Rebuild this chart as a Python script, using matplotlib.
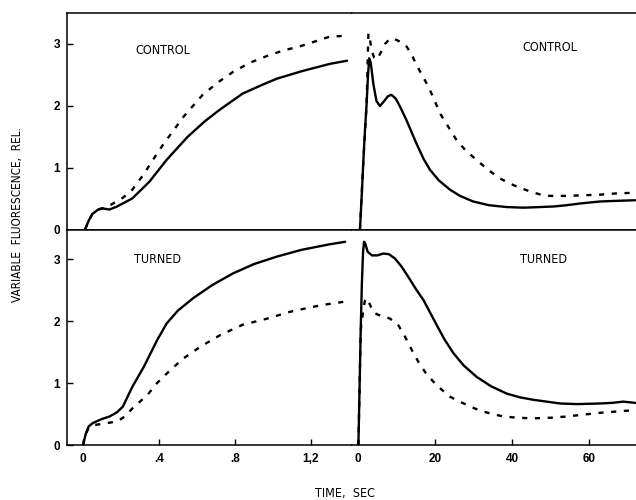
import matplotlib
matplotlib.use("Agg")
import matplotlib.pyplot as plt
from matplotlib import font_manager

# --- data (time in sec, fluorescence rel.) ---
# CONTROL, fast rise (0 - 1.4 s)
ctl_rise_t_solid = [0.01, 0.03, 0.05, 0.08, 0.10, 0.14, 0.18, 0.26, 0.35, 0.44, 0.55,
                    0.64, 0.72, 0.84, 0.95, 1.02, 1.15, 1.30, 1.39]
ctl_rise_y_solid = [0.0, 0.15, 0.26, 0.33, 0.35, 0.33, 0.38, 0.51, 0.78, 1.13, 1.50,
                    1.75, 1.94, 2.20, 2.35, 2.44, 2.56, 2.68, 2.73]
ctl_rise_t_dash = [0.01, 0.03, 0.05, 0.08, 0.12, 0.16, 0.21, 0.26, 0.32, 0.37, 0.42,
                   0.53, 0.63, 0.71, 0.79, 0.88, 0.98, 1.06, 1.14, 1.22, 1.30, 1.37]
ctl_rise_y_dash = [0.0, 0.15, 0.26, 0.33, 0.36, 0.43, 0.52, 0.65, 0.90, 1.14, 1.37,
                   1.83, 2.18, 2.38, 2.55, 2.70, 2.82, 2.90, 2.96, 3.04, 3.12, 3.13]

# CONTROL, slow transient (0 - 72 s)
ctl_slow_t_solid = [0.5, 1.0, 1.4, 1.8, 2.25, 2.6, 2.9, 3.3, 4.0, 4.8, 5.7, 6.8, 7.8,
                    8.7, 9.8, 11.0, 12.6, 15.0, 17.0, 18.7, 21.0, 23.9, 26.5, 29.9,
                    34.0, 38.6, 43.0, 47.3, 51.0, 54.2, 58.0, 62.9, 67.0, 72.0]
ctl_slow_y_solid = [0.0, 0.6, 1.13, 1.6, 2.05, 2.5, 2.77, 2.7, 2.35, 2.08, 2.0, 2.08,
                    2.16, 2.18, 2.12, 1.98, 1.77, 1.42, 1.15, 0.97, 0.80, 0.65, 0.55,
                    0.46, 0.40, 0.37, 0.36, 0.37, 0.38, 0.40, 0.43, 0.46, 0.47, 0.48]
ctl_slow_t_dash = [0.5, 1.4, 2.25, 2.5, 2.7, 3.0, 3.5, 4.2, 4.9, 5.8, 7.0, 8.2, 9.2,
                   10.5, 11.5, 12.6, 14.0, 15.2, 16.8, 18.3, 19.8, 21.3, 23.5, 25.6,
                   28.0, 30.8, 33.8, 36.9, 40.5, 44.7, 47.5, 49.9, 54.0, 58.5, 63.0,
                   67.0, 71.5]
ctl_slow_y_dash = [0.0, 1.13, 2.05, 2.7, 3.17, 3.12, 2.9, 2.78, 2.75, 2.85, 3.0, 3.08,
                   3.09, 3.05, 3.02, 2.96, 2.82, 2.66, 2.48, 2.31, 2.10, 1.88, 1.66,
                   1.45, 1.28, 1.13, 0.97, 0.83, 0.72, 0.62, 0.57, 0.55, 0.55, 0.56,
                   0.57, 0.59, 0.60]

# TURNED, fast rise (0 - 1.4 s)
trn_rise_t_solid = [0.0, 0.015, 0.03, 0.05, 0.07, 0.10, 0.14, 0.18, 0.21, 0.26, 0.32,
                    0.39, 0.44, 0.50, 0.58, 0.68, 0.79, 0.90, 1.02, 1.15, 1.30, 1.38]
trn_rise_y_solid = [0.0, 0.18, 0.30, 0.35, 0.38, 0.42, 0.46, 0.53, 0.62, 0.94, 1.26,
                    1.69, 1.96, 2.17, 2.37, 2.58, 2.77, 2.92, 3.04, 3.15, 3.24, 3.28]
trn_rise_t_dash = [0.0, 0.015, 0.03, 0.054, 0.10, 0.14, 0.18, 0.22, 0.26, 0.30, 0.34,
                   0.39, 0.46, 0.53, 0.62, 0.72, 0.84, 0.97, 1.09, 1.18, 1.26, 1.37]
trn_rise_y_dash = [0.0, 0.18, 0.28, 0.32, 0.34, 0.36, 0.38, 0.46, 0.59, 0.70, 0.81,
                   1.0, 1.21, 1.40, 1.59, 1.77, 1.94, 2.04, 2.15, 2.21, 2.26, 2.31]

# TURNED, slow transient (0 - 72 s)
trn_slow_t_solid = [0.1, 0.4, 0.7, 1.0, 1.3, 1.56, 1.9, 2.5, 3.6, 5.0, 6.6, 8.0, 9.6,
                    11.3, 13.1, 15.0, 17.0, 18.7, 20.4, 22.5, 24.8, 27.5, 30.8, 34.5,
                    38.6, 42.0, 45.5, 49.0, 52.5, 57.0, 62.8, 66.0, 68.9, 72.0]
trn_slow_y_solid = [0.0, 0.9, 1.85, 2.6, 3.1, 3.28, 3.25, 3.12, 3.06, 3.06, 3.09, 3.08,
                    3.01, 2.88, 2.71, 2.52, 2.34, 2.14, 1.94, 1.70, 1.48, 1.28, 1.10,
                    0.95, 0.83, 0.77, 0.73, 0.70, 0.67, 0.66, 0.67, 0.68, 0.70, 0.68]
trn_slow_t_dash = [0.1, 0.4, 0.7, 1.0, 1.4, 1.8, 2.25, 3.0, 4.0, 5.3, 6.2, 8.3, 10.5,
                   12.2, 14.0, 15.7, 17.5, 19.6, 21.8, 23.9, 26.0, 28.2, 30.3, 32.5,
                   35.0, 37.7, 41.5, 45.5, 50.0, 54.2, 58.5, 62.9, 67.0, 71.5]
trn_slow_y_dash = [0.0, 0.9, 1.85, 2.0, 2.2, 2.33, 2.37, 2.28, 2.14, 2.10, 2.08, 2.04,
                   1.93, 1.75, 1.53, 1.34, 1.17, 1.02, 0.89, 0.78, 0.71, 0.65, 0.59,
                   0.54, 0.50, 0.46, 0.44, 0.43, 0.44, 0.46, 0.49, 0.52, 0.54, 0.56]

y_ticks = [0, 1, 2, 3]
rise_ticks = [0, 0.4, 0.8, 1.2]
rise_labels = ["0", ".4", ".8", "1,2"]
slow_ticks = [0, 20, 40, 60]
slow_labels = ["0", "20", "40", "60"]

# narrow lettering font if one is installed
names = {f.name for f in font_manager.fontManager.ttflist}
if "Liberation Sans Narrow" in names:
    label_font, label_size = "Liberation Sans Narrow", 11
else:
    label_font, label_size = "DejaVu Sans", 9

W, H = 636, 500
fig = plt.figure(figsize=(W / 100, H / 100), dpi=100)


def make_axes(x0, x1, y_top, y_bot):
    return fig.add_axes([x0 / W, 1 - y_bot / H, (x1 - x0) / W, (y_bot - y_top) / H])


ax_cr = make_axes(67, 352, 13, 230)
ax_cs = make_axes(352, 636, 13, 230)
ax_tr = make_axes(67, 352, 230, 445)
ax_ts = make_axes(352, 636, 230, 445)

solid = dict(color="black", lw=1.7, solid_capstyle="round")
dash = dict(color="black", lw=1.7, linestyle=(0, (2.2, 3.2)))

ax_cr.plot(ctl_rise_t_solid, ctl_rise_y_solid, **solid)
ax_cr.plot(ctl_rise_t_dash, ctl_rise_y_dash, **dash)
ax_cs.plot(ctl_slow_t_solid, ctl_slow_y_solid, **solid)
ax_cs.plot(ctl_slow_t_dash, ctl_slow_y_dash, **dash)
ax_tr.plot(trn_rise_t_solid, trn_rise_y_solid, **solid)
ax_tr.plot(trn_rise_t_dash, trn_rise_y_dash, **dash)
ax_ts.plot(trn_slow_t_solid, trn_slow_y_solid, **solid)
ax_ts.plot(trn_slow_t_dash, trn_slow_y_dash, **dash)

tick_font = dict(family="Liberation Sans", size=8.5, weight="bold")

for ax, top in [(ax_cr, True), (ax_cs, True), (ax_tr, False), (ax_ts, False)]:
    slow = ax in (ax_cs, ax_ts)
    ax.set_xlim((-1.56, 72.2) if slow else (-0.084, 1.416))
    ax.set_ylim(0, 3.5 if top else 3.47)
    ax.spines["right"].set_visible(False)
    for s in ax.spines.values():
        s.set_linewidth(1.1)
    if slow:
        ax.spines["left"].set_visible(False)
        ax.set_yticks([])
    else:
        ax.set_yticks(y_ticks)
        ax.set_yticklabels([str(v) for v in y_ticks], fontdict=tick_font)
        ax.tick_params(axis="y", direction="in", length=4, width=1, pad=5)
    if top:
        ax.set_xticks([])
    else:
        ax.set_xticks(slow_ticks if slow else rise_ticks)
        ax.set_xticklabels(slow_labels if slow else rise_labels, fontdict=tick_font)
        ax.tick_params(axis="x", direction="in", length=4, width=1, pad=6)

txt = dict(family=label_font, size=label_size, stretch="condensed",
           ha="center", va="center")
ax_cr.text(0.42, 2.9, "CONTROL", **txt)
ax_cs.text(49.9, 2.94, "CONTROL", **txt)
ax_tr.text(0.39, 3.0, "TURNED", **txt)
ax_ts.text(48.3, 3.0, "TURNED", **txt)

fig.text(18 / W, 1 - 215 / H, "VARIABLE  FLUORESCENCE,  REL.", rotation=90,
         family=label_font, size=label_size - 0.5, stretch="condensed",
         ha="center", va="center")
fig.text(345 / W, 1 - 493 / H, "TIME,  SEC", family=label_font, size=label_size,
         stretch="condensed", ha="center", va="center")

fig.savefig("out.png", dpi=100)
